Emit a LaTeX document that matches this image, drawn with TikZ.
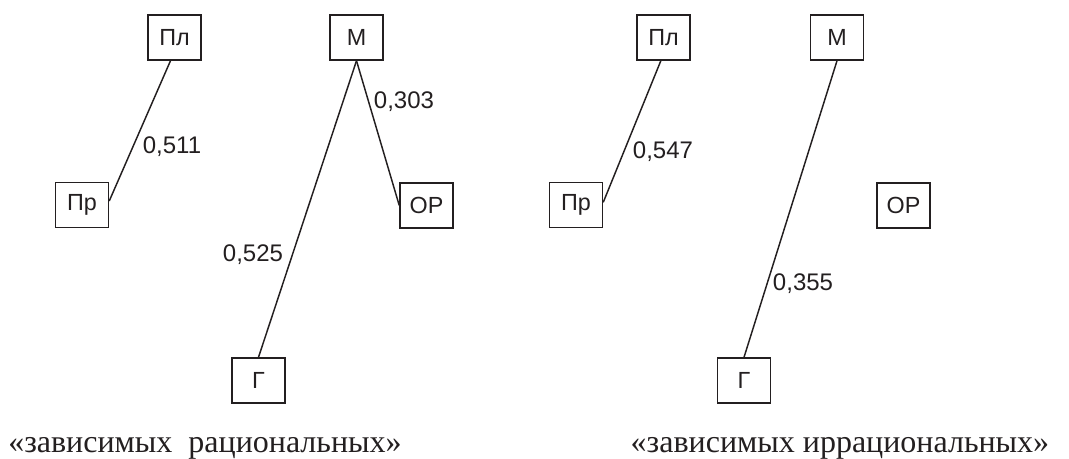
\documentclass[tikz,border=0pt]{standalone}
\usepackage{fontspec}
\setmainfont{Liberation Serif}
\newfontfamily\labelfont{Liberation Sans}
\definecolor{inkdark}{HTML}{231F20}
\begin{document}
\begin{tikzpicture}[x=0.75pt,y=-0.75pt]
    \tikzstyle{every node}=[text=inkdark]
    \tikzstyle{box}=[draw=inkdark, line width=1.1pt, minimum width=39.75pt, minimum height=33.75pt, inner sep=0pt, font=\labelfont\fontsize{17.5}{19}\selectfont]
    \tikzstyle{link}=[inkdark, line width=1.1pt]
    \tikzstyle{weight}=[inner sep=0pt, font=\labelfont\fontsize{18}{20}\selectfont]
    \tikzstyle{caption}=[inner sep=0pt, anchor=base, font=\fontsize{24}{26}\selectfont]

    \useasboundingbox (0,0) rectangle (1069,458);

    % rational
    \node[box] (pl1) at (174.5,37.5) {Пл};
    \node[box] (m1) at (356.5,37.5) {М};
    \node[box] (pr1) at (82,205) {Пр};
    \node[box] (op1) at (426.5,205.5) {ОР};
    \node[box] (g1) at (258.5,380.5) {Г};

    \draw[link] ([xshift=-3]pl1.south) -- ([yshift=3]pr1.east);
    \draw[link] (m1.south) -- (op1.west);
    \draw[link] (m1.south) -- (g1.north);

    \node[weight] (w11) at (172,147) {0,511};
    \node[weight] (w12) at (404,102) {0,303};
    \node[weight] (w13) at (253,255) {0,525};

    \node[caption] (cap1) at (205,452) {«зависимых\ \ рациональных»};

    % irrational
    \node[box] (pl2) at (663.5,37.5) {Пл};
    \node[box] (m2) at (837,37.5) {М};
    \node[box] (pr2) at (576,205) {Пр};
    \node[box] (op2) at (903.5,205.5) {ОР};
    \node[box] (g2) at (744,380.5) {Г};

    \draw[link] ([xshift=-2]pl2.south) -- ([yshift=2]pr2.east);
    \draw[link] (m2.south) -- (g2.north);

    \node[weight] (w21) at (663,152) {0,547};
    \node[weight] (w22) at (803,284) {0,355};

    \node[caption] (cap2) at (840,452) {«зависимых иррациональных»};
\end{tikzpicture}
\end{document}
